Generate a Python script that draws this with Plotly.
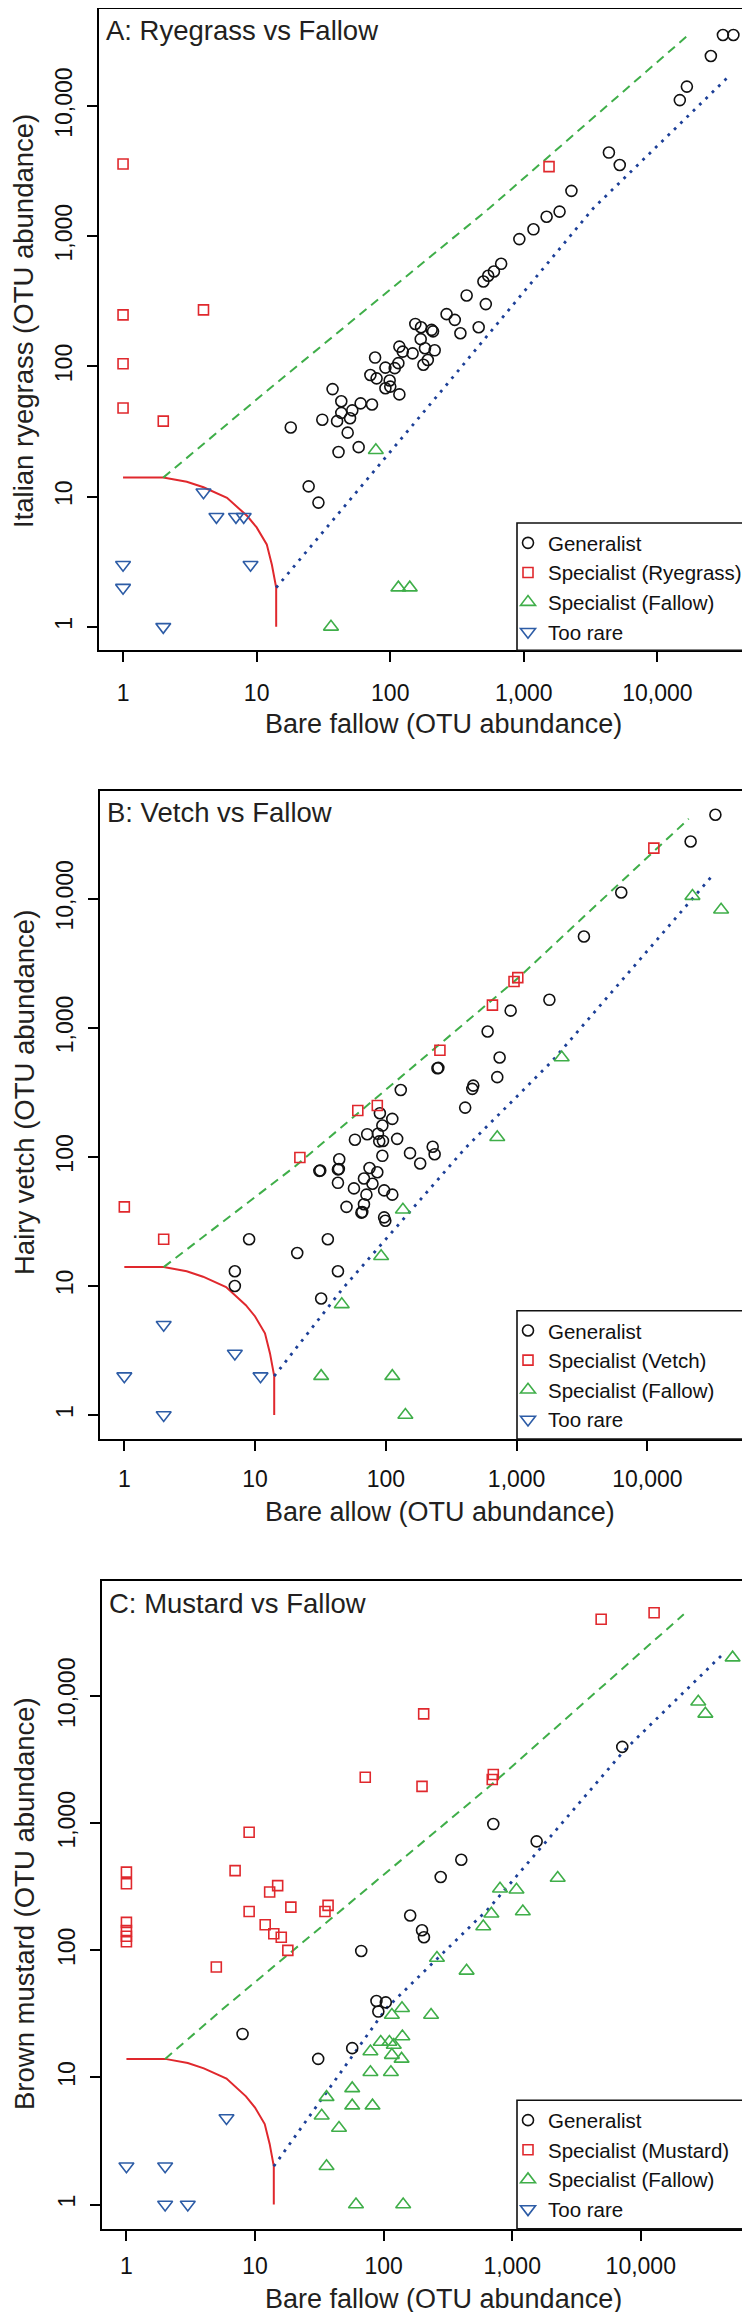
import plotly.graph_objects as go

W, H = 750, 2312
FONT = "Arial, Liberation Sans, Helvetica, sans-serif"

TICK_VALS = [1, 10, 100, 1000, 10000]
TICK_TEXT = ["1", "10", "100", "1,000", "10,000"]

# ---------------- Panel A: Ryegrass vs Fallow ----------------
a_gen_x = [30900, 37000, 25100, 16600, 14700, 4330, 5220, 2270, 1850, 1480, 1180, 925,
           676, 597, 541, 498, 373, 519, 264, 304, 335, 459, 154, 170, 204, 209, 169,
           182, 215, 147, 117, 124, 191, 177, 77, 92, 108, 115, 71, 79, 99, 100, 92,
           117, 37, 43, 60, 73, 43, 52, 50, 40, 31, 18, 48, 58, 41, 24.5, 29]
a_gen_y = [35100, 35100, 24200, 14100, 11100, 4390, 3520, 2230, 1545, 1410, 1130, 950,
           614, 536, 497, 449, 351, 301, 252, 228, 180, 200, 212, 200, 191, 186, 162,
           138, 133, 126, 142, 130, 112, 103, 117, 98, 97, 106, 86, 81, 78, 70, 68,
           61, 67, 54, 52, 51, 44, 46, 40, 38, 39, 34, 31, 24, 22, 12, 9]
a_spec_x = [1, 1, 1, 1, 2, 4, 1543]
a_spec_y = [3590, 249, 105, 48, 38, 272, 3425]
a_fal_x = [36, 78, 115, 140]
a_fal_y = [1, 22.7, 2, 2]
a_rare_x = [1, 1, 2, 4, 5, 7, 8, 9]
a_rare_y = [3, 2, 1, 10.8, 7, 7, 7, 3]
a_upper_x = [2, 12.6, 551, 17600]
a_upper_y = [14, 68, 1640, 36200]
a_lower_x = [14, 251, 3310, 34000]
a_lower_y = [2, 68, 1640, 16800]

# ---------------- Panel B: Vetch vs Fallow ----------------
b_gen_x = [33100, 21400, 6310, 3270, 1780, 900, 600, 741, 711, 248, 252, 130, 458, 466,
           404, 90, 112, 94, 72, 87, 58, 89, 95, 122, 228, 236, 153, 183, 94, 44, 31,
           31.5, 43, 43.7, 75, 86, 68, 79, 43, 57, 97, 112, 71, 68, 65, 66, 50, 97, 99,
           9, 36, 21, 7, 7, 43, 32]
b_gen_y = [44800, 27800, 11200, 5110, 1650, 1360, 938, 589, 415, 486, 490, 330, 337, 357,
           241, 218, 197, 175, 150, 151, 136, 132, 133, 138, 120, 105, 107, 89, 102, 96,
           78, 78.5, 80, 80.6, 82, 76, 68, 62, 63, 57, 55, 51, 51, 43, 37, 37.4, 41, 34,
           32, 23, 23, 18, 13, 10, 13, 8]
b_spec_x = [1, 2, 22, 61, 86, 259, 653, 955, 1020, 11200]
b_spec_y = [41, 23, 99, 229, 250, 671, 1500, 2290, 2450, 24700]
b_fal_x = [22100, 36600, 2210, 711, 135, 92, 46, 32, 112, 141]
b_fal_y = [10500, 8220, 589, 142, 39, 17, 7.2, 2, 2, 1]
b_rare_x = [2, 7, 1, 11, 2]
b_rare_y = [5, 3, 2, 2, 1]
b_upper_x = [2, 19.5, 1020, 20700]
b_upper_y = [14, 82, 2420, 41700]
b_lower_x = [14, 47, 405, 1860, 31500]
b_lower_y = [2, 9.6, 117, 550, 15200]

# ---------------- Panel C: Mustard vs Fallow ----------------
c_gen_x = [7180, 713, 1550, 402, 278, 161, 199, 206, 67, 88, 104, 91, 8, 57, 31]
c_gen_y = [3990, 986, 721, 516, 378, 188, 144, 127, 99, 40, 39, 33, 22, 17, 14]
c_spec_x = [12700, 4920, 205, 72, 199, 713, 700, 9, 7, 1, 1, 15, 13, 19, 37, 35, 9, 1,
            12, 1, 1, 1, 14, 16, 18, 5]
c_spec_y = [45400, 40300, 7260, 2300, 1950, 2420, 2210, 849, 424, 413, 334, 323, 288,
            219, 226, 202, 202, 166, 159, 143, 129, 117, 135, 127, 100, 74]
c_fal_x = [51800, 28000, 31800, 2260, 804, 1080, 1210, 689, 596, 260, 442, 139, 234, 116,
           140, 95, 111, 120, 79, 116, 138, 79, 114, 57, 36, 57, 82, 33, 45, 36, 61, 142]
c_fal_y = [20100, 9040, 7260, 371, 305, 300, 202, 194, 154, 87, 69, 35, 31, 31, 21, 19,
           19, 18, 16, 15, 14, 11, 11, 8.2, 7, 6, 6, 5, 4, 2, 1, 1]
c_rare_x = [6, 1, 2, 2, 3]
c_rare_y = [4.8, 2, 2, 1, 1]
c_upper_x = [2, 5.7, 49, 689, 21600]
c_upper_y = [14, 35, 215, 2010, 44100]
c_lower_x = [14, 105, 661, 7550, 45500]
c_lower_y = [2, 35, 215, 3800, 22400]

# minimum-abundance boundary (same in all panels)
rare_curve_x = [1, 2, 3, 4, 6, 8.5, 10, 11.9, 13, 14, 14]
rare_curve_y = [14, 14, 13, 11.8, 9.8, 7.1, 5.8, 4.3, 3, 2, 1]

COL_GEN = "#111111"
COL_SPEC = "#e0282d"
COL_FAL = "#3fae49"
COL_RARE = "#2d5ca6"
COL_UPPER = "#3fae49"
COL_LOWER = "#1c3f97"
COL_CURVE = "#e0282d"

panels = [
    dict(key="A", title="A: Ryegrass vs Fallow", ylab="Italian ryegrass (OTU abundance)",
         xlab="Bare fallow (OTU abundance)", spec_name="Specialist (Ryegrass)",
         gen=(a_gen_x, a_gen_y), spec=(a_spec_x, a_spec_y), fal=(a_fal_x, a_fal_y),
         rare=(a_rare_x, a_rare_y), upper=(a_upper_x, a_upper_y), lower=(a_lower_x, a_lower_y),
         box=(91, 749, 1, 642.3), rng=[-0.18, 4.745], ylab_c=313, tick_so=11,
         leg_top=515, xlab_off=74),
    dict(key="B", title="B: Vetch vs Fallow", ylab="Hairy vetch (OTU abundance)",
         xlab="Bare allow (OTU abundance)", spec_name="Specialist (Vetch)",
         gen=(b_gen_x, b_gen_y), spec=(b_spec_x, b_spec_y), fal=(b_fal_x, b_fal_y),
         rare=(b_rare_x, b_rare_y), upper=(b_upper_x, b_upper_y), lower=(b_lower_x, b_lower_y),
         box=(92, 749, 782.7, 1431), rng=[-0.186, 4.838], ylab_c=1085, tick_so=9,
         leg_top=1302.7, xlab_off=73),
    dict(key="C", title="C: Mustard vs Fallow", ylab="Brown mustard (OTU abundance)",
         xlab="Bare fallow (OTU abundance)", spec_name="Specialist (Mustard)",
         gen=(c_gen_x, c_gen_y), spec=(c_spec_x, c_spec_y), fal=(c_fal_x, c_fal_y),
         rare=(c_rare_x, c_rare_y), upper=(c_upper_x, c_upper_y), lower=(c_lower_x, c_lower_y),
         box=(94, 749, 1573.3, 2220.7), rng=[-0.19, 4.904], ylab_c=1896, tick_so=6,
         leg_top=2092.3, xlab_off=70),
]

fig = go.Figure()
layout = dict(width=W, height=H, margin=dict(l=0, r=0, t=0, b=0),
              paper_bgcolor="white", plot_bgcolor="white",
              font=dict(family=FONT, color="#111111"), showlegend=True)
annotations = []
shapes = []

for i, p in enumerate(panels):
    n = "" if i == 0 else str(i + 1)
    xa, ya = "x" + n, "y" + n
    leg = "legend" + n
    x0, x1, yt, yb = p["box"]
    xdom = [x0 / W, x1 / W]
    ydom = [1 - yb / H, 1 - yt / H]

    axis_common = dict(type="log", range=p["rng"], tickvals=TICK_VALS, ticktext=TICK_TEXT,
                       ticks="outside", ticklen=10, tickwidth=1.5, tickcolor="black",
                       showline=True, linecolor="black", linewidth=1.6, mirror=True,
                       showgrid=False, zeroline=False,
                       tickfont=dict(size=23, family=FONT, color="#111111"))
    layout["xaxis" + n] = dict(axis_common, domain=xdom, anchor=ya,
                               ticklabelstandoff=p["tick_so"])
    layout["yaxis" + n] = dict(axis_common, domain=ydom, anchor=xa, tickangle=-90,
                               ticklabelstandoff=6)

    # boundary lines
    fig.add_trace(go.Scatter(x=rare_curve_x, y=rare_curve_y, mode="lines", xaxis=xa, yaxis=ya,
                             line=dict(color=COL_CURVE, width=2), showlegend=False,
                             hoverinfo="skip"))
    fig.add_trace(go.Scatter(x=p["upper"][0], y=p["upper"][1], mode="lines", xaxis=xa, yaxis=ya,
                             line=dict(color=COL_UPPER, width=2, dash="9px,6px"),
                             showlegend=False, hoverinfo="skip"))
    fig.add_trace(go.Scatter(x=p["lower"][0], y=p["lower"][1], mode="lines", xaxis=xa, yaxis=ya,
                             line=dict(color=COL_LOWER, width=2.8, dash="2.8px,6px"),
                             showlegend=False, hoverinfo="skip"))

    groups = [
        ("Generalist", p["gen"], "circle-open", COL_GEN, 11),
        (p["spec_name"], p["spec"], "square-open", COL_SPEC, 10),
        ("Specialist (Fallow)", p["fal"], "triangle-up-open", COL_FAL, 13),
        ("Too rare", p["rare"], "triangle-down-open", COL_RARE, 13),
    ]
    for gi, (name, (gx, gy), sym, col, sz) in enumerate(groups):
        fig.add_trace(go.Scatter(x=gx, y=gy, mode="markers", name=name, xaxis=xa, yaxis=ya,
                                 legend=leg, legendgroup=f"{p['key']}{gi}",
                                 marker=dict(symbol=sym, size=sz, color=col,
                                             line=dict(color=col, width=1.6))))

    # legend frame (opaque box reaching the right edge of the plot box)
    shapes.append(dict(type="rect", xref="paper", yref="paper", layer="above",
                       x0=509 / W, x1=x1 / W, y0=ydom[0], y1=1 - p["leg_top"] / H,
                       fillcolor="white", line=dict(color="#111111", width=1.6)))
    layout[leg] = dict(x=500 / W, xanchor="left", y=1 - p["leg_top"] / H, yanchor="top",
                       bgcolor="rgba(0,0,0,0)", borderwidth=0,
                       font=dict(size=20.5, family=FONT, color="#111111"),
                       tracegroupgap=2.7, traceorder="normal")

    # panel title
    annotations.append(dict(text=p["title"], xref="paper", yref="paper",
                            x=(x0 + 5) / W, y=1 - (yt + 22) / H, xanchor="left",
                            yanchor="middle", showarrow=False,
                            font=dict(size=27.5, family=FONT, color="#231f20")))
    # y title
    annotations.append(dict(text=p["ylab"], xref="paper", yref="paper",
                            x=16 / W, y=1 - p["ylab_c"] / H, xanchor="center",
                            yanchor="middle", textangle=-90, showarrow=False,
                            font=dict(size=27.5, family=FONT, color="#231f20")))
    # x title
    annotations.append(dict(text=p["xlab"], xref="paper", yref="paper",
                            x=255 / W, y=1 - (yb + p["xlab_off"]) / H, xanchor="left",
                            yanchor="middle", showarrow=False,
                            font=dict(size=27, family=FONT, color="#231f20")))

layout["annotations"] = annotations
layout["shapes"] = shapes
fig.update_layout(**layout)
fig.write_html("out.html")
